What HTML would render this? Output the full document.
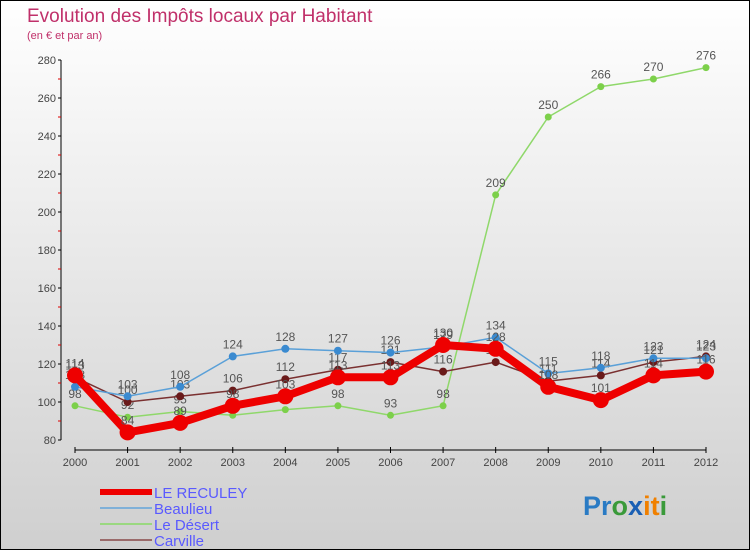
<!DOCTYPE html>
<html><head><meta charset="utf-8"><style>
html,body{margin:0;padding:0}
body{width:750px;height:550px;overflow:hidden;font-family:"Liberation Sans",sans-serif}
</style></head><body>
<svg width="750" height="550" xmlns="http://www.w3.org/2000/svg">
<defs><linearGradient id="bg" x1="0" y1="0" x2="0" y2="1"><stop offset="0" stop-color="#ffffff"/><stop offset="1" stop-color="#cfcfcf"/></linearGradient></defs>
<rect x="0" y="0" width="750" height="550" fill="url(#bg)" stroke="#000" stroke-width="2"/>
<text x="27" y="22" font-size="19" fill="#c0306a">Evolution des Impôts locaux par Habitant</text>
<text x="27" y="39" font-size="11" fill="#c0306a">(en € et par an)</text>
<g id="axes"></g>
<g id="series"></g>
<g id="legend"></g>
<text x="583" y="515" font-size="27" font-weight="bold"><tspan fill="#2a7bc4">Pr</tspan><tspan fill="#3a9a3a">o</tspan><tspan fill="#1a5fb4">x</tspan><tspan fill="#f08000">it</tspan><tspan fill="#3a9a3a">i</tspan></text>
</svg>
<script>
const years=[2000,2001,2002,2003,2004,2005,2006,2007,2008,2009,2010,2011,2012];
const yTicks=[80,100,120,140,160,180,200,220,240,260,280];
const reculey=[114,84,89,98,103,113,113,130,128,108,101,114,116];
const beaulieu=[108,103,108,124,128,127,126,129,134,115,118,123,123];
const desert=[98,92,95,93,96,98,93,98,209,250,266,270,276];
const carville=[113,100,103,106,112,117,121,116,121,111,114,121,124];
const NS="http://www.w3.org/2000/svg";
const x=i=>75+i*(706-75)/(years.length-1);
const y=v=>440-(v-80)*(380/200);
function mk(t,a,p){const e=document.createElementNS(NS,t);for(const k in a)e.setAttribute(k,a[k]);p.appendChild(e);return e;}
const ax=document.getElementById('axes');
let l=mk('line',{x1:61,y1:60,x2:61,y2:440,stroke:'#000'},ax);


l=mk('line',{x1:75,y1:450,x2:706,y2:450,stroke:'#000'},ax);


yTicks.forEach((v,i)=>{
  mk('line',{x1:58,y1:y(v),x2:61,y2:y(v),stroke:'#000'},ax);
  if(i<yTicks.length-1)mk('line',{x1:58,y1:y(v+10),x2:61,y2:y(v+10),stroke:'#d00'},ax);
  const t=mk('text',{x:56,y:y(v)+4,'font-size':11,fill:'#444','text-anchor':'end'},ax);
  t.textContent=v;
  
  
});
years.forEach((yr,i)=>{
  mk('line',{x1:x(i),y1:447,x2:x(i),y2:453,stroke:'#000'},ax);
  const t=mk('text',{x:x(i),y:466,'font-size':11,fill:'#444','text-anchor':'middle'},ax);
  t.textContent=yr;
  
  
});
const sg=document.getElementById('series');
const series=[
 {d:desert,c:'#8fd86a',w:1.5,r:3.5,fc:'#7cd04a',n:'le-desert'},
 {d:carville,c:'#7a3030',w:1.5,r:4,fc:'#6a1a1a',n:'carville'},
 {d:beaulieu,c:'#5aa0d8',w:1.5,r:4,fc:'#3a8ad0',n:'beaulieu'},
 {d:reculey,c:'#ee0000',w:8,r:8,fc:'#ee0000',n:'le-reculey'}];
series.forEach(s=>{
  const g=mk('g',{},sg);
  
  
  const p=mk('polyline',{points:s.d.map((v,i)=>x(i)+','+y(v)).join(' '),fill:'none',stroke:s.c,'stroke-width':s.w,'stroke-linejoin':'round'},g);
  
  
  s.d.forEach((v,i)=>{
    const c=mk('circle',{cx:x(i),cy:y(v),r:s.r,fill:s.fc},g);
    
    
    const t=mk('text',{x:x(i),y:y(v)-8,'font-size':12,fill:'#555','text-anchor':'middle'},g);
    t.textContent=v;
    
    
  });
});
const lg=document.getElementById('legend');
[['LE RECULEY','#ee0000',6],['Beaulieu','#7fb0d8',2],['Le Désert','#9ad880',2],['Carville','#9a6a6a',2]].forEach((e,i)=>{
  const yy=492+i*16;
  const ln=mk('line',{x1:100,y1:yy,x2:152,y2:yy,stroke:e[1],'stroke-width':e[2]},lg);
  
  
  const t=mk('text',{x:154,y:yy+6,'font-size':15,fill:'#5a5aff'},lg);
  t.textContent=e[0];
  
  
});
</script>
</body></html>
